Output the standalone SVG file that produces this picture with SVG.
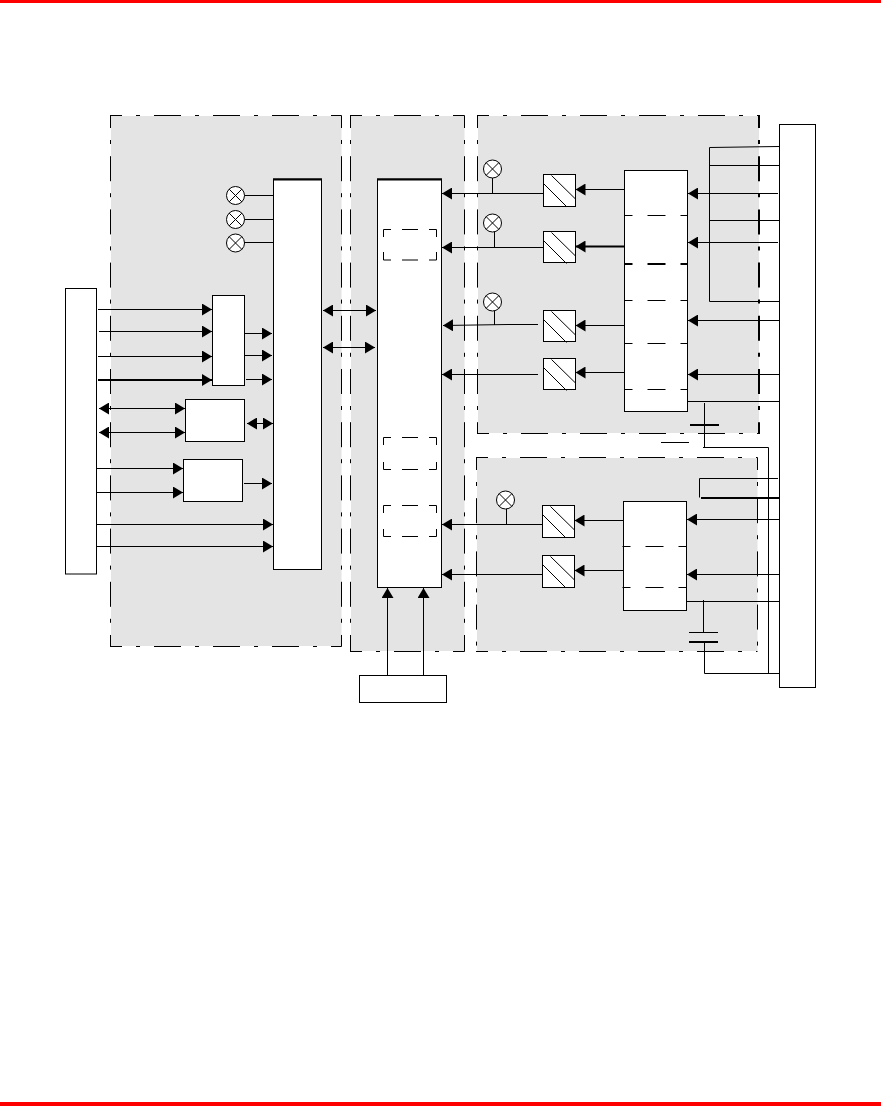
<svg xmlns="http://www.w3.org/2000/svg" width="881" height="1106" viewBox="0 0 881 1106">
<style>
.bg{fill:#e4e4e4;stroke:none}
.h{fill:none;stroke:#000;stroke-width:1;stroke-dasharray:27 14 4 14;stroke-dashoffset:15}
.v{fill:none;stroke:#000;stroke-width:1;stroke-dasharray:25 12 4 12.2;stroke-dashoffset:12.500}
.n{fill:#fff;stroke:#000;stroke-width:1}
.d{fill:none;stroke:#000;stroke-width:1}
.c{fill:none;stroke:#000;stroke-width:1}
.t{fill:none;stroke:#000;stroke-width:2}
.s{stroke-dasharray:8 15 18 15 8}
.a{fill:none;stroke:#000;stroke-width:1;marker-end:url(#ah)}
.b{fill:none;stroke:#000;stroke-width:1;marker-start:url(#as);marker-end:url(#ah)}
.at{fill:none;stroke:#000;stroke-width:2;marker-end:url(#ahs)}
.lamp{fill:#fff;stroke:#000;stroke-width:1}
</style>
<defs>
<marker id="ah" markerUnits="userSpaceOnUse" markerWidth="10" markerHeight="12" refX="10" refY="6" orient="auto"><path d="M0 0L10 6L0 12Z" fill="#000"/></marker>
<marker id="as" markerUnits="userSpaceOnUse" markerWidth="10" markerHeight="12" refX="0" refY="6" orient="auto"><path d="M10 0L0 6L10 12Z" fill="#000"/></marker>
<marker id="ahs" markerUnits="userSpaceOnUse" markerWidth="10" markerHeight="12" refX="10" refY="6" orient="auto"><path d="M0 0L10 6L0 12Z" fill="#000"/></marker>
<g id="x"><circle r="9" class="lamp"/><path d="M-6.400-6.400L6.400 6.400M-6.400 6.400L6.400-6.400" class="c"/></g>
<g id="hatch"><path d="M0 9L23 32M8 1L32 24.500" class="c"/></g>
</defs>
<rect x="0" y="0" width="881" height="3" fill="#f00"/>
<rect x="0" y="1102" width="881" height="4" fill="#f00"/>
<g id="panel-1"><rect class="bg" x="111" y="116" width="230.500" height="530"/><path class="h" d="M110 115.500H341.500M110 646.500H341.500"/><path class="v" d="M110.500 115.500V646.500M341.500 115.500V646.500"/></g>
<g id="panel-2"><rect class="bg" x="351" y="116" width="113.500" height="535"/><path class="h" d="M350 115.500H464.500M350 651.500H464.500"/><path class="v" d="M350.500 115.500V651.500M464.500 115.500V651.500"/></g>
<g id="panel-3"><rect class="bg" x="478" y="116" width="281" height="317"/><path class="h" d="M477 115.500H760M477 433.500H760"/><path class="v" d="M477.500 115.500V433.500"/><path class="v" style="stroke-width:2" d="M759 115.500V433.500"/></g>
<g id="panel-4"><rect class="bg" x="477" y="458" width="280.500" height="193"/><path class="h" d="M476 457.500H757.500M476 651.500H757.500"/><path class="v" d="M476.500 457.500V651.500M757.500 457.500V651.500"/></g>

<g id="connectors">
<path class="c" d="M244 195.500H273M244 219.500H273M244 242.500H273"/>
<path class="a" d="M98 309.500H212"/><path class="a" d="M99 331.500H212"/><path class="a" d="M98 356.500H212"/><path class="at" d="M98 380H212"/>
<path class="a" d="M244.500 333.500H272"/><path class="a" d="M244.500 355.500H272"/><path class="a" d="M246 379.500H272"/>
<path class="b" d="M99 408.500H185"/><path class="b" d="M99 432.500H185"/><path class="b" d="M247 423.500H273"/>
<path class="a" d="M97 468.500H183"/><path class="a" d="M97 492.500H183"/><path class="a" d="M244 483.500H272"/>
<path class="a" d="M97 524.500H273"/><path class="a" d="M97 546.500H273"/>
<path class="b" d="M323 310.500H376"/><path class="b" d="M323 347.500H375"/>
<path class="a" d="M543 193.500H442"/><path class="a" d="M543 247.500H442"/><path class="c" d="M538 324.500H508"/><path class="a" d="M508 324.500L443 325.500"/><path class="a" d="M538 374.500H442"/>
<path class="a" d="M542 524.500H442"/><path class="a" d="M542 574.500H442"/>
<path class="c" d="M492.500 178V193M494.500 232V247M494.500 311V325M506.500 509V524"/>
<path class="a" d="M387.500 675V588"/><path class="a" d="M423.500 675V588"/>
<path class="a" d="M624 189.500H575.500"/><path class="at" d="M624 246.500H575.500"/><path class="a" d="M624 325.500H575.500"/><path class="a" d="M624 372.500H575.500"/>
<path class="a" d="M623 520.500H574.500"/><path class="a" d="M623 570.500H574.500"/>
<path class="a" d="M778 193.500H688"/><path class="a" d="M778 242.500H688"/><path class="a" d="M779 320.500H688"/><path class="a" d="M779 374.500H688"/>
<path class="a" d="M779 519.500H687"/><path class="a" d="M779 574.500H687"/>
<path class="c" d="M779 146.500L709.500 147.500V301.500H779M709.500 165.500H779M709.500 220.500H779"/>
<path class="c" d="M686 401.500H779M704.500 403V425M704.500 425V447.500M703 447.500H768.500V673.500"/>
<path class="t" d="M690 425H719"/><path class="c" d="M661 442.500H689"/>
<path class="c" d="M778 478.500H699.500V497.500"/><path class="t" d="M701 498H779"/>
<path class="c" d="M685 601.500H779M703.500 600V632M689 632.500H718M704.500 642V673.500H779"/><path class="t" d="M689 642H718"/>
</g>

<g id="left-box"><rect class="n" x="65.500" y="288.500" width="31" height="285.500"/></g>
<g id="controller"><rect class="n" x="273.500" y="179" width="48" height="390.500"/><path class="t" d="M273 179.500H322"/></g>
<g id="box-a"><rect class="n" x="212.500" y="295.500" width="32" height="90"/></g>
<g id="box-b"><rect class="n" x="185.500" y="399.500" width="59" height="42"/></g>
<g id="box-c"><rect class="n" x="183.500" y="459.500" width="59" height="42"/></g>
<g id="lamp-1"><use href="#x" x="235.500" y="195.500"/></g>
<g id="lamp-2"><use href="#x" x="235.500" y="219.500"/></g>
<g id="lamp-3"><use href="#x" x="235.500" y="243"/></g>

<g id="main-box"><rect class="n" x="377.500" y="179" width="64" height="408.500"/><path class="t" d="M377 179.500H442"/>
<path class="d" d="M383.500 237V229.500H391M402 229.500H418M429 229.500H436.500V237M383.500 252V260H391M402 260H418M429 260H436.500V252"/>
<path class="d" d="M383.500 445V437.500H391M402 437.500H418M429 437.500H436.500V445M383.500 462V469.500H391M402 469.500H418M429 469.500H436.500V462"/>
<path class="d" d="M383.500 513V505.500H391M402 505.500H418M429 505.500H436.500V513M383.500 529V536.500H391M402 536.500H418M429 536.500H436.500V529"/></g>
<g id="bottom-box"><rect class="n" x="359.500" y="675.500" width="87" height="27"/></g>

<g id="lamp-4"><use href="#x" x="492.500" y="169"/></g>
<g id="lamp-5"><use href="#x" x="492.500" y="223"/></g>
<g id="lamp-6"><use href="#x" x="492.500" y="302"/></g>
<g id="lamp-7"><use href="#x" x="505.500" y="500"/></g>
<g id="hatch-1"><rect class="n" x="543.500" y="174.500" width="32" height="32"/><use href="#hatch" x="543.500" y="174.500"/></g>
<g id="hatch-2"><rect class="n" x="543.500" y="231.500" width="32" height="31"/><use href="#hatch" x="543.500" y="231.500"/></g>
<g id="hatch-3"><rect class="n" x="543.500" y="310.500" width="32" height="31"/><use href="#hatch" x="543.500" y="310.500"/></g>
<g id="hatch-4"><rect class="n" x="543.500" y="358.500" width="32" height="31"/><use href="#hatch" x="543.500" y="358.500"/></g>
<g id="hatch-5"><rect class="n" x="542.500" y="505.500" width="32" height="32"/><use href="#hatch" x="542.500" y="505.500"/></g>
<g id="hatch-6"><rect class="n" x="542.500" y="555.500" width="32" height="32"/><use href="#hatch" x="542.500" y="555.500"/></g>

<g id="stack-upper"><rect class="n" x="624.500" y="170.500" width="63" height="241"/>
<path class="c s" d="M624.500 215.500H687.500M624.500 300.500H687.500M624.500 343.500H687.500M624.500 389.500H687.500"/><path class="t s" d="M624.500 264H687.500"/></g>
<g id="stack-lower"><rect class="n" x="623.500" y="501.500" width="63" height="109"/>
<path class="c s" d="M622.500 546.500H686.500M622.500 587.500H686.500"/></g>
<g id="right-box"><rect class="n" x="779.500" y="124.500" width="36" height="563"/></g>
</svg>
